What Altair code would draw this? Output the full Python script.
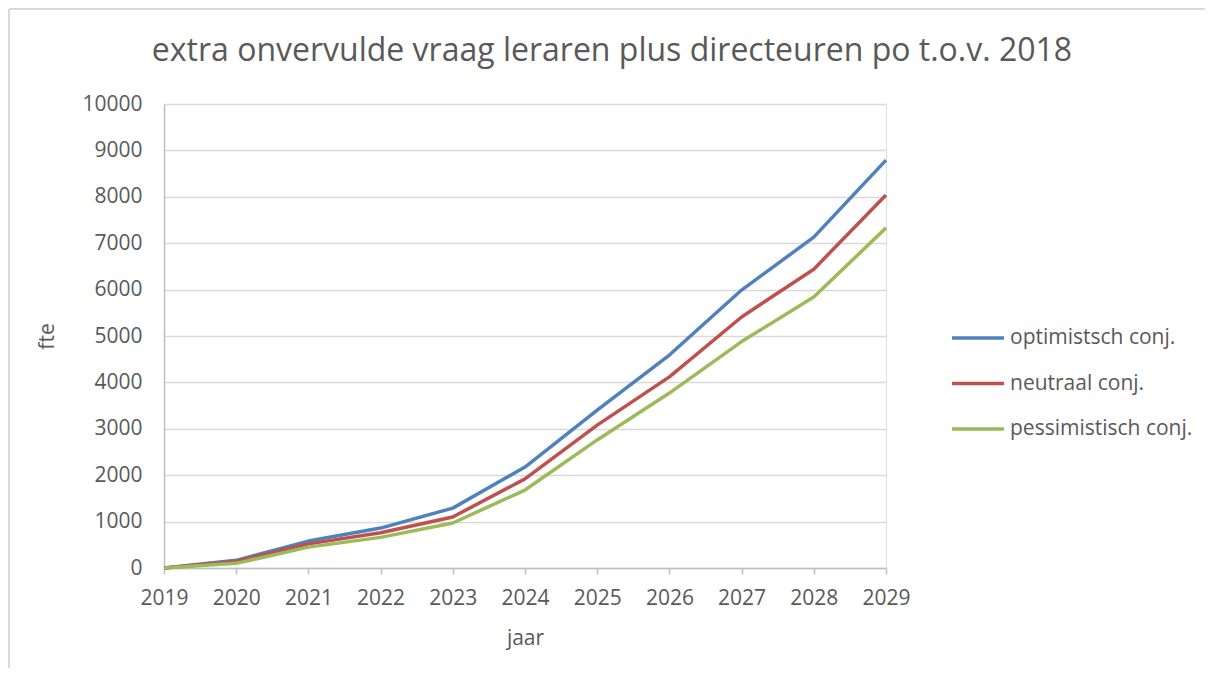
import altair as alt
import pandas as pd

years = [2019, 2020, 2021, 2022, 2023, 2024, 2025, 2026, 2027, 2028, 2029]
optimistisch = [0, 165, 580, 860, 1290, 2175, 3400, 4590, 5990, 7130, 8790]
neutraal = [0, 140, 520, 760, 1100, 1920, 3080, 4120, 5410, 6440, 8040]
pessimistisch = [0, 100, 450, 660, 970, 1680, 2760, 3770, 4880, 5840, 7330]

series_names = ["optimistsch conj.", "neutraal conj.", "pessimistisch conj."]
series_colors = ["#4F81BD", "#C0504D", "#9BBB59"]

rows = []
for name, vals in zip(series_names, [optimistisch, neutraal, pessimistisch]):
    for y, v in zip(years, vals):
        rows.append({"jaar": y, "fte": v, "serie": name})
df = pd.DataFrame(rows)

FONT = "Open Sans"
GREY = "#595959"

lines = alt.Chart(df).mark_line(strokeWidth=3.5, strokeCap="butt", strokeJoin="round").encode(
    x=alt.X("jaar:Q",
            scale=alt.Scale(domain=[2019, 2029], nice=False, zero=False),
            axis=alt.Axis(values=years, format="d", title="jaar",
                          grid=False, domainColor="#bfbfbf", domainWidth=1.5,
                          tickColor="#bfbfbf", tickWidth=1.5, tickSize=6,
                          labelFlush=False, labelOverlap=False,
                          labelPadding=13, labelFontSize=21, labelColor=GREY,
                          labelFont=FONT, titleFont=FONT, titleFontSize=21,
                          titleColor=GREY, titleFontWeight="normal", titlePadding=19)),
    y=alt.Y("fte:Q",
            scale=alt.Scale(domain=[0, 10000], nice=False),
            axis=alt.Axis(values=list(range(0, 10001, 1000)), format="d", title="fte",
                          grid=True, gridColor="#d9d9d9", gridWidth=1.5,
                          domainColor="#bfbfbf", domainWidth=1.5, ticks=False,
                          labelPadding=22, labelFontSize=21, labelColor=GREY,
                          labelFont=FONT, titleFont=FONT, titleFontSize=21,
                          titleColor=GREY, titleFontWeight="normal", titlePadding=24)),
    color=alt.Color("serie:N",
                    scale=alt.Scale(domain=series_names, range=series_colors),
                    sort=series_names,
                    legend=alt.Legend(title=None, orient="none", legendX=786, legendY=206,
                                      symbolType="stroke", symbolSize=2704,
                                      symbolStrokeWidth=3.5, labelFontSize=21,
                                      labelFont=FONT, labelColor=GREY,
                                      labelOffset=4, rowPadding=7.5, labelLimit=300)),
)

frame = alt.Chart(pd.DataFrame({"a": [0]})).mark_rule(color="#d9d9d9", strokeWidth=2).encode(
    x=alt.value(-155), y=alt.value(-95), y2=alt.value(600)
) + alt.Chart(pd.DataFrame({"a": [0]})).mark_rule(color="#d9d9d9", strokeWidth=2).encode(
    x=alt.value(-155), x2=alt.value(1100), y=alt.value(-95)
)

chart = alt.layer(frame, lines).properties(
    width=722, height=464,
    autosize=alt.AutoSizeParams(type="none"),
    padding={"left": 156, "top": 96, "right": 319, "bottom": 100},
    title=alt.TitleParams("extra onvervulde vraag leraren plus directeuren po t.o.v. 2018",
                          font=FONT, fontSize=32, color=GREY, fontWeight="normal",
                          anchor="middle", frame="group", dx=87, offset=-60),
).configure_view(stroke=None).configure(background="white")

chart.save("out.html", embed_options={"renderer": "svg", "actions": False})
